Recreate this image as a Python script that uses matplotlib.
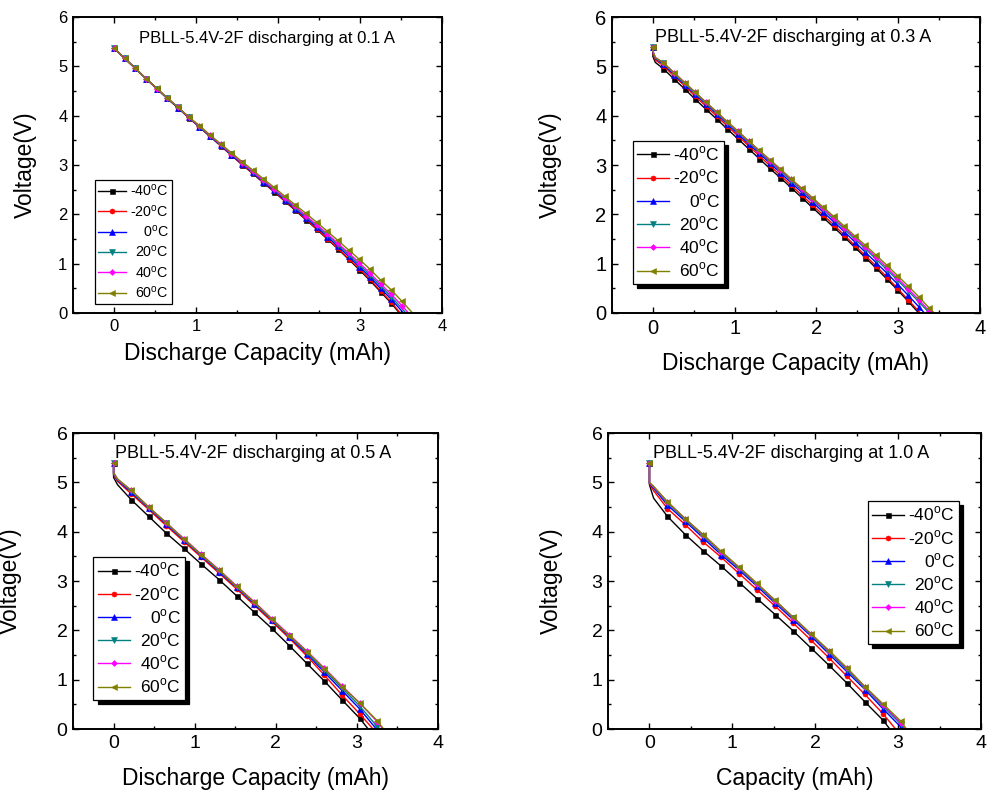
import matplotlib
matplotlib.use("Agg")
import matplotlib.pyplot as plt
from matplotlib.ticker import MultipleLocator

plt.rcParams["font.family"] = ["Liberation Sans", "DejaVu Sans"]
plt.rcParams["mathtext.fontset"] = "custom"
plt.rcParams["mathtext.rm"] = "Liberation Sans"

TEMPS = ["-40", "-20", "0", "20", "40", "60"]
COLORS = ["#000000", "#ff0000", "#0000ff", "#008080", "#ff00ff", "#808000"]
MARKERS = ["s", "o", "^", "v", "D", "<"]
MSIZES = [3.6, 3.6, 3.8, 3.8, 3.0, 3.8]

# ---- 0.1 A  (first value = voltage at 0 mAh, then one value per grid step)
P1_GRID = [0.00, 0.13, 0.26, 0.39, 0.52, 0.65, 0.78, 0.91, 1.04, 1.17, 1.30, 1.43, 1.56, 1.69,
           1.82, 1.95, 2.08, 2.21, 2.34, 2.47, 2.60, 2.73, 2.86, 2.99, 3.12, 3.25, 3.38, 3.51]
P1_START = 5.37
P1_V = [
    [5.37, 5.16, 4.96, 4.75, 4.55, 4.35, 4.16, 3.96, 3.77, 3.58, 3.39, 3.20, 3.01, 2.83,
     2.64, 2.46, 2.27, 2.08, 1.89, 1.70, 1.50, 1.30, 1.09, 0.88, 0.66, 0.43, 0.20],
    [5.37, 5.16, 4.96, 4.75, 4.55, 4.35, 4.16, 3.96, 3.77, 3.58, 3.39, 3.20, 3.01, 2.84,
     2.65, 2.47, 2.28, 2.09, 1.90, 1.71, 1.51, 1.31, 1.10, 0.90, 0.68, 0.45, 0.22],
    [5.37, 5.16, 4.96, 4.75, 4.55, 4.35, 4.16, 3.97, 3.78, 3.59, 3.40, 3.21, 3.03, 2.85,
     2.66, 2.49, 2.30, 2.11, 1.93, 1.74, 1.55, 1.35, 1.15, 0.94, 0.73, 0.50, 0.28],
    [5.37, 5.16, 4.96, 4.75, 4.55, 4.35, 4.17, 3.97, 3.78, 3.59, 3.41, 3.22, 3.04, 2.86,
     2.68, 2.50, 2.32, 2.13, 1.95, 1.77, 1.58, 1.38, 1.18, 0.98, 0.77, 0.55, 0.33],
    [5.37, 5.16, 4.96, 4.75, 4.55, 4.36, 4.17, 3.97, 3.79, 3.60, 3.42, 3.23, 3.05, 2.87,
     2.69, 2.52, 2.34, 2.16, 1.97, 1.79, 1.61, 1.41, 1.22, 1.02, 0.81, 0.59, 0.38, 0.15],
    [5.37, 5.16, 4.96, 4.75, 4.56, 4.36, 4.17, 3.98, 3.80, 3.61, 3.43, 3.25, 3.07, 2.90,
     2.72, 2.55, 2.37, 2.19, 2.02, 1.84, 1.66, 1.47, 1.28, 1.09, 0.89, 0.67, 0.47, 0.24],
]
P1_END = [3.48, 3.49, 3.53, 3.56, 3.59, 3.64]
P1_KNEE_X = None
P1_KNEE = None

# ---- 0.3 A
P2_GRID = P1_GRID
P2_START = 5.40
P2_V = [
    [5.20, 4.95, 4.74, 4.54, 4.33, 4.13, 3.93, 3.73, 3.53, 3.33, 3.13, 2.93, 2.74, 2.54,
     2.34, 2.14, 1.94, 1.74, 1.54, 1.33, 1.12, 0.91, 0.69, 0.47, 0.24],
    [5.25, 5.01, 4.80, 4.60, 4.39, 4.19, 3.99, 3.79, 3.59, 3.39, 3.19, 2.99, 2.79, 2.59,
     2.39, 2.19, 1.99, 1.79, 1.58, 1.37, 1.16, 0.95, 0.73, 0.50, 0.27],
    [5.28, 5.04, 4.83, 4.63, 4.43, 4.23, 4.03, 3.83, 3.63, 3.43, 3.24, 3.04, 2.84, 2.64,
     2.45, 2.25, 2.05, 1.85, 1.65, 1.44, 1.23, 1.02, 0.81, 0.59, 0.36, 0.13],
    [5.30, 5.06, 4.85, 4.65, 4.45, 4.25, 4.05, 3.85, 3.66, 3.46, 3.27, 3.07, 2.88, 2.68,
     2.49, 2.29, 2.10, 1.90, 1.70, 1.50, 1.30, 1.09, 0.88, 0.67, 0.45, 0.23],
    [5.31, 5.07, 4.87, 4.67, 4.47, 4.27, 4.07, 3.87, 3.68, 3.48, 3.29, 3.09, 2.90, 2.71,
     2.51, 2.32, 2.12, 1.93, 1.73, 1.53, 1.33, 1.13, 0.92, 0.71, 0.49, 0.27, 0.04],
    [5.31, 5.07, 4.87, 4.67, 4.47, 4.27, 4.08, 3.88, 3.69, 3.49, 3.30, 3.11, 2.92, 2.72,
     2.53, 2.34, 2.15, 1.96, 1.76, 1.56, 1.37, 1.17, 0.97, 0.76, 0.55, 0.33, 0.10],
]
P2_END = [3.25, 3.27, 3.32, 3.38, 3.40, 3.44]
P2_KNEE_X = 0.03
P2_KNEE = [5.08, 5.13, 5.16, 5.17, 5.18, 5.18]

# ---- 0.5 A
P3_GRID = [0.00, 0.217, 0.433, 0.65, 0.867, 1.083, 1.30, 1.517, 1.733, 1.95, 2.167, 2.383,
           2.60, 2.817, 3.033, 3.25]
P3_START = 5.40
P3_V = [
    [5.10, 4.65, 4.31, 3.97, 3.66, 3.34, 3.03, 2.70, 2.37, 2.04, 1.69, 1.33, 0.97, 0.59, 0.22],
    [5.15, 4.77, 4.45, 4.12, 3.80, 3.48, 3.16, 2.84, 2.51, 2.18, 1.84, 1.48, 1.09, 0.69, 0.31],
    [5.17, 4.80, 4.48, 4.15, 3.83, 3.51, 3.19, 2.87, 2.54, 2.21, 1.87, 1.52, 1.15, 0.78, 0.41],
    [5.18, 4.82, 4.49, 4.17, 3.84, 3.52, 3.21, 2.88, 2.56, 2.22, 1.89, 1.55, 1.19, 0.83, 0.47, 0.05],
    [5.19, 4.84, 4.50, 4.18, 3.86, 3.54, 3.23, 2.90, 2.58, 2.24, 1.91, 1.58, 1.23, 0.87, 0.53, 0.15],
    [5.20, 4.84, 4.50, 4.18, 3.85, 3.53, 3.22, 2.89, 2.57, 2.23, 1.89, 1.57, 1.22, 0.86, 0.53, 0.17],
]
P3_END = [3.14, 3.20, 3.24, 3.28, 3.32, 3.33]
P3_KNEE_X = 0.05
P3_KNEE = [4.95, 5.02, 5.04, 5.05, 5.06, 5.07]

# ---- 1.0 A
P4_GRID = P3_GRID
P4_START = 5.40
P4_V = [
    [4.95, 4.31, 3.94, 3.61, 3.30, 2.97, 2.64, 2.32, 1.99, 1.64, 1.29, 0.93, 0.55, 0.18],
    [4.97, 4.47, 4.14, 3.79, 3.48, 3.15, 2.82, 2.49, 2.15, 1.80, 1.44, 1.07, 0.70, 0.31],
    [4.98, 4.54, 4.21, 3.87, 3.53, 3.22, 2.89, 2.55, 2.22, 1.88, 1.52, 1.16, 0.80, 0.41, 0.04],
    [4.99, 4.58, 4.24, 3.91, 3.57, 3.25, 2.92, 2.58, 2.25, 1.91, 1.56, 1.20, 0.83, 0.46, 0.10],
    [4.99, 4.60, 4.26, 3.93, 3.59, 3.27, 2.94, 2.60, 2.26, 1.92, 1.58, 1.23, 0.85, 0.49, 0.13],
    [5.00, 4.61, 4.26, 3.94, 3.60, 3.28, 2.95, 2.61, 2.27, 1.93, 1.59, 1.24, 0.86, 0.51, 0.16],
]
P4_END = [2.90, 2.97, 3.05, 3.08, 3.09, 3.10]
P4_KNEE_X = 0.05
P4_KNEE = [4.68, 4.83, 4.88, 4.90, 4.91, 4.92]

PANELS = [
    dict(grid=P1_GRID, start=P1_START, volts=P1_V, end=P1_END, knee_x=P1_KNEE_X, knee=P1_KNEE,
         title="PBLL-5.4V-2F discharging at 0.1 A", xlabel="Discharge Capacity (mAh)",
         rect=[0.0739, 0.6063, 0.3735, 0.3723], tfs=12, lfs=10.3, lsp=0.3, hl=1.95, title_fs=12,
         title_xy=(0.179, 0.926), ylab_x=-0.098, xlab_y=-0.098,
         leg_xy=(0.059, 0.030), shadow=False),
    dict(grid=P2_GRID, start=P2_START, volts=P2_V, end=P2_END, knee_x=P2_KNEE_X, knee=P2_KNEE,
         title="PBLL-5.4V-2F discharging at 0.3 A", xlabel="Discharge Capacity (mAh)",
         rect=[0.6194, 0.6063, 0.3725, 0.3723], tfs=14.5, lfs=12.5, lsp=0.26, hl=1.85, title_fs=13,
         title_xy=(0.117, 0.932), ylab_x=-0.137, xlab_y=-0.132,
         leg_xy=(0.056, 0.098), shadow=True),
    dict(grid=P3_GRID, start=P3_START, volts=P3_V, end=P3_END, knee_x=P3_KNEE_X, knee=P3_KNEE,
         title="PBLL-5.4V-2F discharging at 0.5 A", xlabel="Discharge Capacity (mAh)",
         rect=[0.0739, 0.0830, 0.3694, 0.3723], tfs=14, lfs=12.5, lsp=0.26, hl=1.85, title_fs=13,
         title_xy=(0.115, 0.931), ylab_x=-0.14, xlab_y=-0.127,
         leg_xy=(0.056, 0.098), shadow=True),
    dict(grid=P4_GRID, start=P4_START, volts=P4_V, end=P4_END, knee_x=P4_KNEE_X, knee=P4_KNEE,
         title="PBLL-5.4V-2F discharging at 1.0 A", xlabel="Capacity (mAh)",
         rect=[0.6154, 0.0830, 0.3775, 0.3723], tfs=14, lfs=12.5, lsp=0.26, hl=1.85, title_fs=13,
         title_xy=(0.12, 0.932), ylab_x=-0.121, xlab_y=-0.127,
         leg_xy=(0.696, 0.287), shadow=True),
]

fig = plt.figure(figsize=(9.88, 7.95), dpi=100)
legends = []

for p in PANELS:
    ax = fig.add_axes(p["rect"])
    for i, t in enumerate(TEMPS):
        v = p["volts"][i]
        xs = [0.0, 0.0]
        ys = [p["start"], v[0]]
        if p["knee"] is not None:
            xs.append(p["knee_x"])
            ys.append(p["knee"][i])
        first_grid = len(xs)
        xs += p["grid"][1:len(v)] + [p["end"][i]]
        ys += v[1:] + [0.0]
        marks = [0] + list(range(first_grid, len(xs) - 1))
        ax.plot(xs, ys, color=COLORS[i], lw=1.0, marker=MARKERS[i], ms=MSIZES[i],
                mec=COLORS[i], mew=0.4, markevery=marks,
                label=t + r"$^{\mathrm{o}}$C")

    ax.set_xlim(-0.5, 4)
    ax.set_ylim(0, 6)
    ax.set_xticks([0, 1, 2, 3, 4])
    ax.xaxis.set_minor_locator(MultipleLocator(0.5))
    ax.yaxis.set_major_locator(MultipleLocator(1))
    ax.yaxis.set_minor_locator(MultipleLocator(0.5))
    ax.tick_params(which="both", direction="in", top=True, right=True, width=1.0)
    ax.tick_params(which="major", length=4, labelsize=p["tfs"], pad=4)
    ax.tick_params(which="minor", length=2.2)
    for s in ax.spines.values():
        s.set_linewidth(1.4)

    ax.set_ylabel("Voltage(V)", fontsize=16.5)
    ax.yaxis.set_label_coords(p["ylab_x"], 0.5)
    ax.set_xlabel(p["xlabel"], fontsize=16.5, va="top")
    ax.xaxis.set_label_coords(0.5, p["xlab_y"])
    ax.text(p["title_xy"][0], p["title_xy"][1], p["title"], transform=ax.transAxes,
            fontsize=p["title_fs"], ha="left", va="center")

    shadow = {"ox": 3, "oy": -3, "color": "black", "alpha": 1} if p["shadow"] else False
    leg = ax.legend(loc="lower left", bbox_to_anchor=p["leg_xy"], borderaxespad=0,
                    fontsize=p["lfs"], fancybox=False, shadow=shadow, framealpha=1,
                    edgecolor="black", handlelength=p["hl"], handletextpad=0.25,
                    labelspacing=p["lsp"], borderpad=0.25)
    leg.get_frame().set_linewidth(0.9)
    legends.append(leg)

# right-align the legend labels, as in the original
fig.canvas.draw()
renderer = fig.canvas.get_renderer()
for leg in legends:
    texts = leg.get_texts()
    widths = [t.get_window_extent(renderer).width for t in texts]
    wmax = max(widths)
    for t, w in zip(texts, widths):
        t.set_x(wmax - w)

fig.savefig("out.png", dpi=100)
